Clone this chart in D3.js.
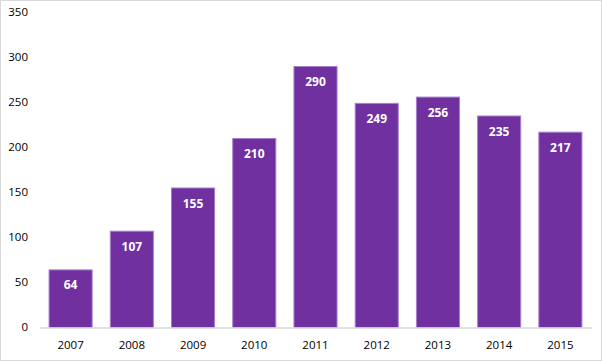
<!DOCTYPE html>
<html><head><meta charset="utf-8">
<script src="https://cdn.jsdelivr.net/npm/d3@7"></script>
<style>html,body{margin:0;padding:0;background:#fff;}svg{display:block;}</style>
</head><body>
<script>
const years = ["2007","2008","2009","2010","2011","2012","2013","2014","2015"];
const values = [64,107,155,210,290,249,256,235,217];
const yTicks = [0,50,100,150,200,250,300,350];

const W = 602, H = 361;
const svg = d3.select("body").append("svg").attr("width", W).attr("height", H);
svg.append("rect").attr("x",0.5).attr("y",0.5).attr("width",W-1).attr("height",H-1)
  .attr("fill","#fff").attr("stroke","#d9d9d9");

const x = d3.scaleBand().domain(years).range([40, 591]).paddingInner(0.28).paddingOuter(0.14);
const y = d3.scaleLinear().domain([0,350]).range([327, 12]);

const font = "'Open Sans', 'DejaVu Sans', sans-serif";

// y axis labels
const yAxis = d3.axisLeft(y).tickValues(yTicks).tickSize(0).tickPadding(0);
const gy = svg.append("g").attr("transform","translate(28,0)").call(yAxis);
gy.select(".domain").remove();
gy.selectAll("text").attr("font-family", font).attr("font-size", 11.5).attr("fill","#000");

// bars
svg.selectAll("rect.bar").data(values).join("rect").attr("class","bar")
  .attr("x",(d,i)=>x(years[i])+0.5).attr("y",d=>y(d)+0.5)
  .attr("width",x.bandwidth()-1).attr("height",d=>y(0)-y(d))
  .attr("fill","#7030a0").attr("stroke","#a67fcc").attr("stroke-width",1);

// baseline
svg.append("line").attr("x1",40).attr("x2",592).attr("y1",328).attr("y2",328)
  .attr("stroke","#d9d9d9").attr("stroke-width",1.5);

// x axis
const xAxis = d3.axisBottom(x).tickSize(0).tickPadding(0);
const gx = svg.append("g").attr("transform","translate(0,341)").call(xAxis);
gx.select(".domain").remove();
gx.selectAll("text").attr("font-family", font).attr("font-size", 11.5).attr("fill","#000");

// value labels
svg.selectAll("text.val").data(values).join("text").attr("class","val")
  .attr("x",(d,i)=>x(years[i])+x.bandwidth()/2).attr("y",d=>y(d)+20)
  .attr("text-anchor","middle").attr("font-family",font).attr("font-weight","bold")
  .attr("font-size",12).attr("fill","#fff").text(d=>d);
</script>
</body></html>
